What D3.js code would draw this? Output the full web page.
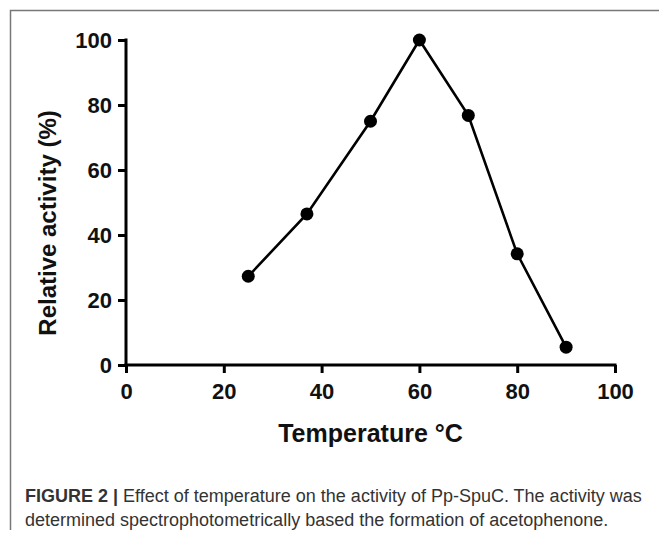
<!DOCTYPE html>
<html>
<head>
<meta charset="utf-8">
<script src="https://d3js.org/d3.v7.min.js"></script>
<style>
  body { margin: 0; background: #fff; }
  svg { display: block; }
</style>
</head>
<body>
<div class="dgraph"></div>
<script>
// values
var temps = [25, 37, 50, 60, 70, 80, 90];
var activity = [27.3, 46.5, 75, 100, 76.8, 34.2, 5.5];
var xTicks = [0, 20, 40, 60, 80, 100];
var yTicks = [0, 20, 40, 60, 80, 100];

var width = 659, height = 534;
var mLeft = 126, mRight = 615, mTop = 40, mBottom = 365;

var svg = d3.select("body .dgraph").append("svg")
    .attr("width", width).attr("height", height);

// frame of the figure box (top + left edges only)
svg.append("path")
    .attr("d", "M10.5,530 V10.5 H659")
    .attr("fill", "none").attr("stroke", "#777").attr("stroke-width", 1.5);

var x = d3.scaleLinear().domain([0, 100]).range([mLeft, mRight]);
var y = d3.scaleLinear().domain([0, 100]).range([mBottom, mTop]);

var font = "'Liberation Sans', Arial, Helvetica, sans-serif";

var xAxis = d3.axisBottom(x).tickValues(xTicks).tickSize(8).tickPadding(10).tickFormat(d3.format("d"));
var yAxis = d3.axisLeft(y).tickValues(yTicks).tickSize(8).tickPadding(6).tickFormat(d3.format("d"));

var gx = svg.append("g").attr("transform", "translate(0," + mBottom + ")").call(xAxis);
var gy = svg.append("g").attr("transform", "translate(" + mLeft + ",0)").call(yAxis);

[gx, gy].forEach(function(g){
    g.select(".domain").attr("stroke", "#000").attr("stroke-width", 3)
        .attr("d", g === gx ? "M" + (mLeft - 1.5) + ",0H" + (mRight + 1.5) : "M0," + (mTop - 1.5) + "V" + (mBottom + 1.5));
    g.selectAll(".tick line").attr("stroke", "#000").attr("stroke-width", 3);
    g.selectAll(".tick text")
        .attr("fill", "#111")
        .style("font-family", font)
        .style("font-weight", "bold")
        .style("font-size", "22px");
});
gy.selectAll(".tick text").attr("dy", "0.36em");

// line + markers
var pts = temps.map(function(t, i){ return [t, activity[i]]; });

svg.append("path")
    .datum(pts)
    .attr("fill", "none")
    .attr("stroke", "#000")
    .attr("stroke-width", 2.6)
    .attr("d", d3.line().x(function(d){ return x(d[0]); }).y(function(d){ return y(d[1]); }));

svg.selectAll("circle.pt")
    .data(pts)
    .enter()
    .append("circle")
    .attr("class", "pt")
    .attr("cx", function(d){ return x(d[0]); })
    .attr("cy", function(d){ return y(d[1]); })
    .attr("r", 6.5)
    .attr("fill", "#000");

// axis titles
svg.append("text")
    .attr("x", (mLeft + mRight) / 2).attr("y", 442)
    .attr("text-anchor", "middle")
    .style("font-family", font).style("font-weight", "bold").style("font-size", "25px")
    .attr("fill", "#111")
    .text("Temperature °C");

svg.append("text")
    .attr("transform", "translate(56,223) rotate(-90)")
    .attr("text-anchor", "middle")
    .style("font-family", font).style("font-weight", "bold").style("font-size", "24px")
    .attr("fill", "#111")
    .text("Relative activity (%)");

// caption
var cap = svg.append("g")
    .style("font-family", font).style("font-size", "18px").attr("fill", "#333");

var l1 = cap.append("text").attr("x", 25).attr("y", 502);
l1.append("tspan").style("font-weight", "bold").text("FIGURE 2 | ");
l1.append("tspan").text("Effect of temperature on the activity of Pp-SpuC. The activity was");

cap.append("text").attr("x", 25).attr("y", 526)
    .text("determined spectrophotometrically based the formation of acetophenone.");
</script>
</body>
</html>
